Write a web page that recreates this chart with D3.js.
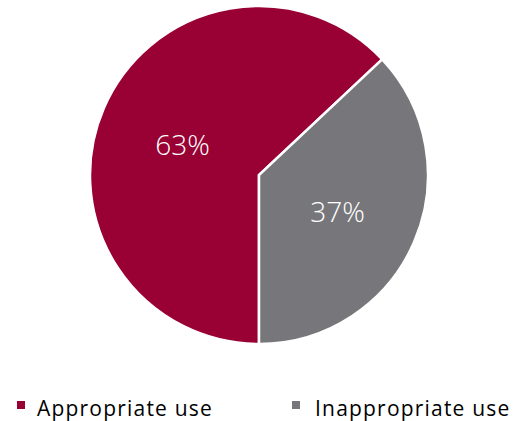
<!DOCTYPE html>
<html>
<head>
<meta charset="utf-8">
<script src="https://cdn.jsdelivr.net/npm/d3@7"></script>
<style>
  body { margin: 0; background: #fff; }
  svg { display: block; font-family: "Open Sans", "Liberation Sans", sans-serif; }
</style>
</head>
<body>
<div id="chart"></div>
<script>
// 数据
const categories = ["Appropriate use", "Inappropriate use"];
const values = [63, 37];
const colors = ["#990033", "#77777b"];

const width = 518, height = 421;
const cx = 259, cy = 175, radius = 169;

const svg = d3.select("#chart").append("svg")
  .attr("width", width)
  .attr("height", height);

const pie = d3.pie()
  .sort(null)
  .startAngle(Math.PI)
  .endAngle(Math.PI * 3);

const arc = d3.arc().innerRadius(0).outerRadius(radius);
const labelArc = d3.arc().innerRadius(radius * 0.5).outerRadius(radius * 0.5);

const arcs = pie(values);

const g = svg.append("g").attr("transform", `translate(${cx},${cy})`);

// 扇区
g.selectAll("path")
  .data(arcs)
  .join("path")
  .attr("d", arc)
  .attr("fill", (d, i) => colors[i])
  .attr("stroke", "#fff")
  .attr("stroke-width", 2.5)
  .attr("stroke-linejoin", "miter");

// 百分比标签
g.selectAll("text")
  .data(arcs)
  .join("text")
  .attr("transform", d => {
    const [x, y] = labelArc.centroid(d);
    return `translate(${x + 1},${y + 4})`;
  })
  .attr("text-anchor", "middle")
  .attr("dy", "0.35em")
  .attr("fill", "#fff")
  .attr("font-size", 28)
  .attr("font-weight", 300)
  .text(d => d.data + "%");

// 图例
const legendX = [17, 292];
const legend = svg.append("g")
  .selectAll("g")
  .data(categories)
  .join("g")
  .attr("transform", (d, i) => `translate(${legendX[i]},401)`);

legend.append("rect")
  .attr("width", 8)
  .attr("height", 8)
  .attr("fill", (d, i) => colors[i]);

legend.append("text")
  .attr("x", (d, i) => i === 0 ? 20 : 23)
  .attr("y", 15)
  .attr("font-size", 21)
  .attr("letter-spacing", 1.2)
  .attr("fill", "#000")
  .text(d => d);
</script>
</body>
</html>
